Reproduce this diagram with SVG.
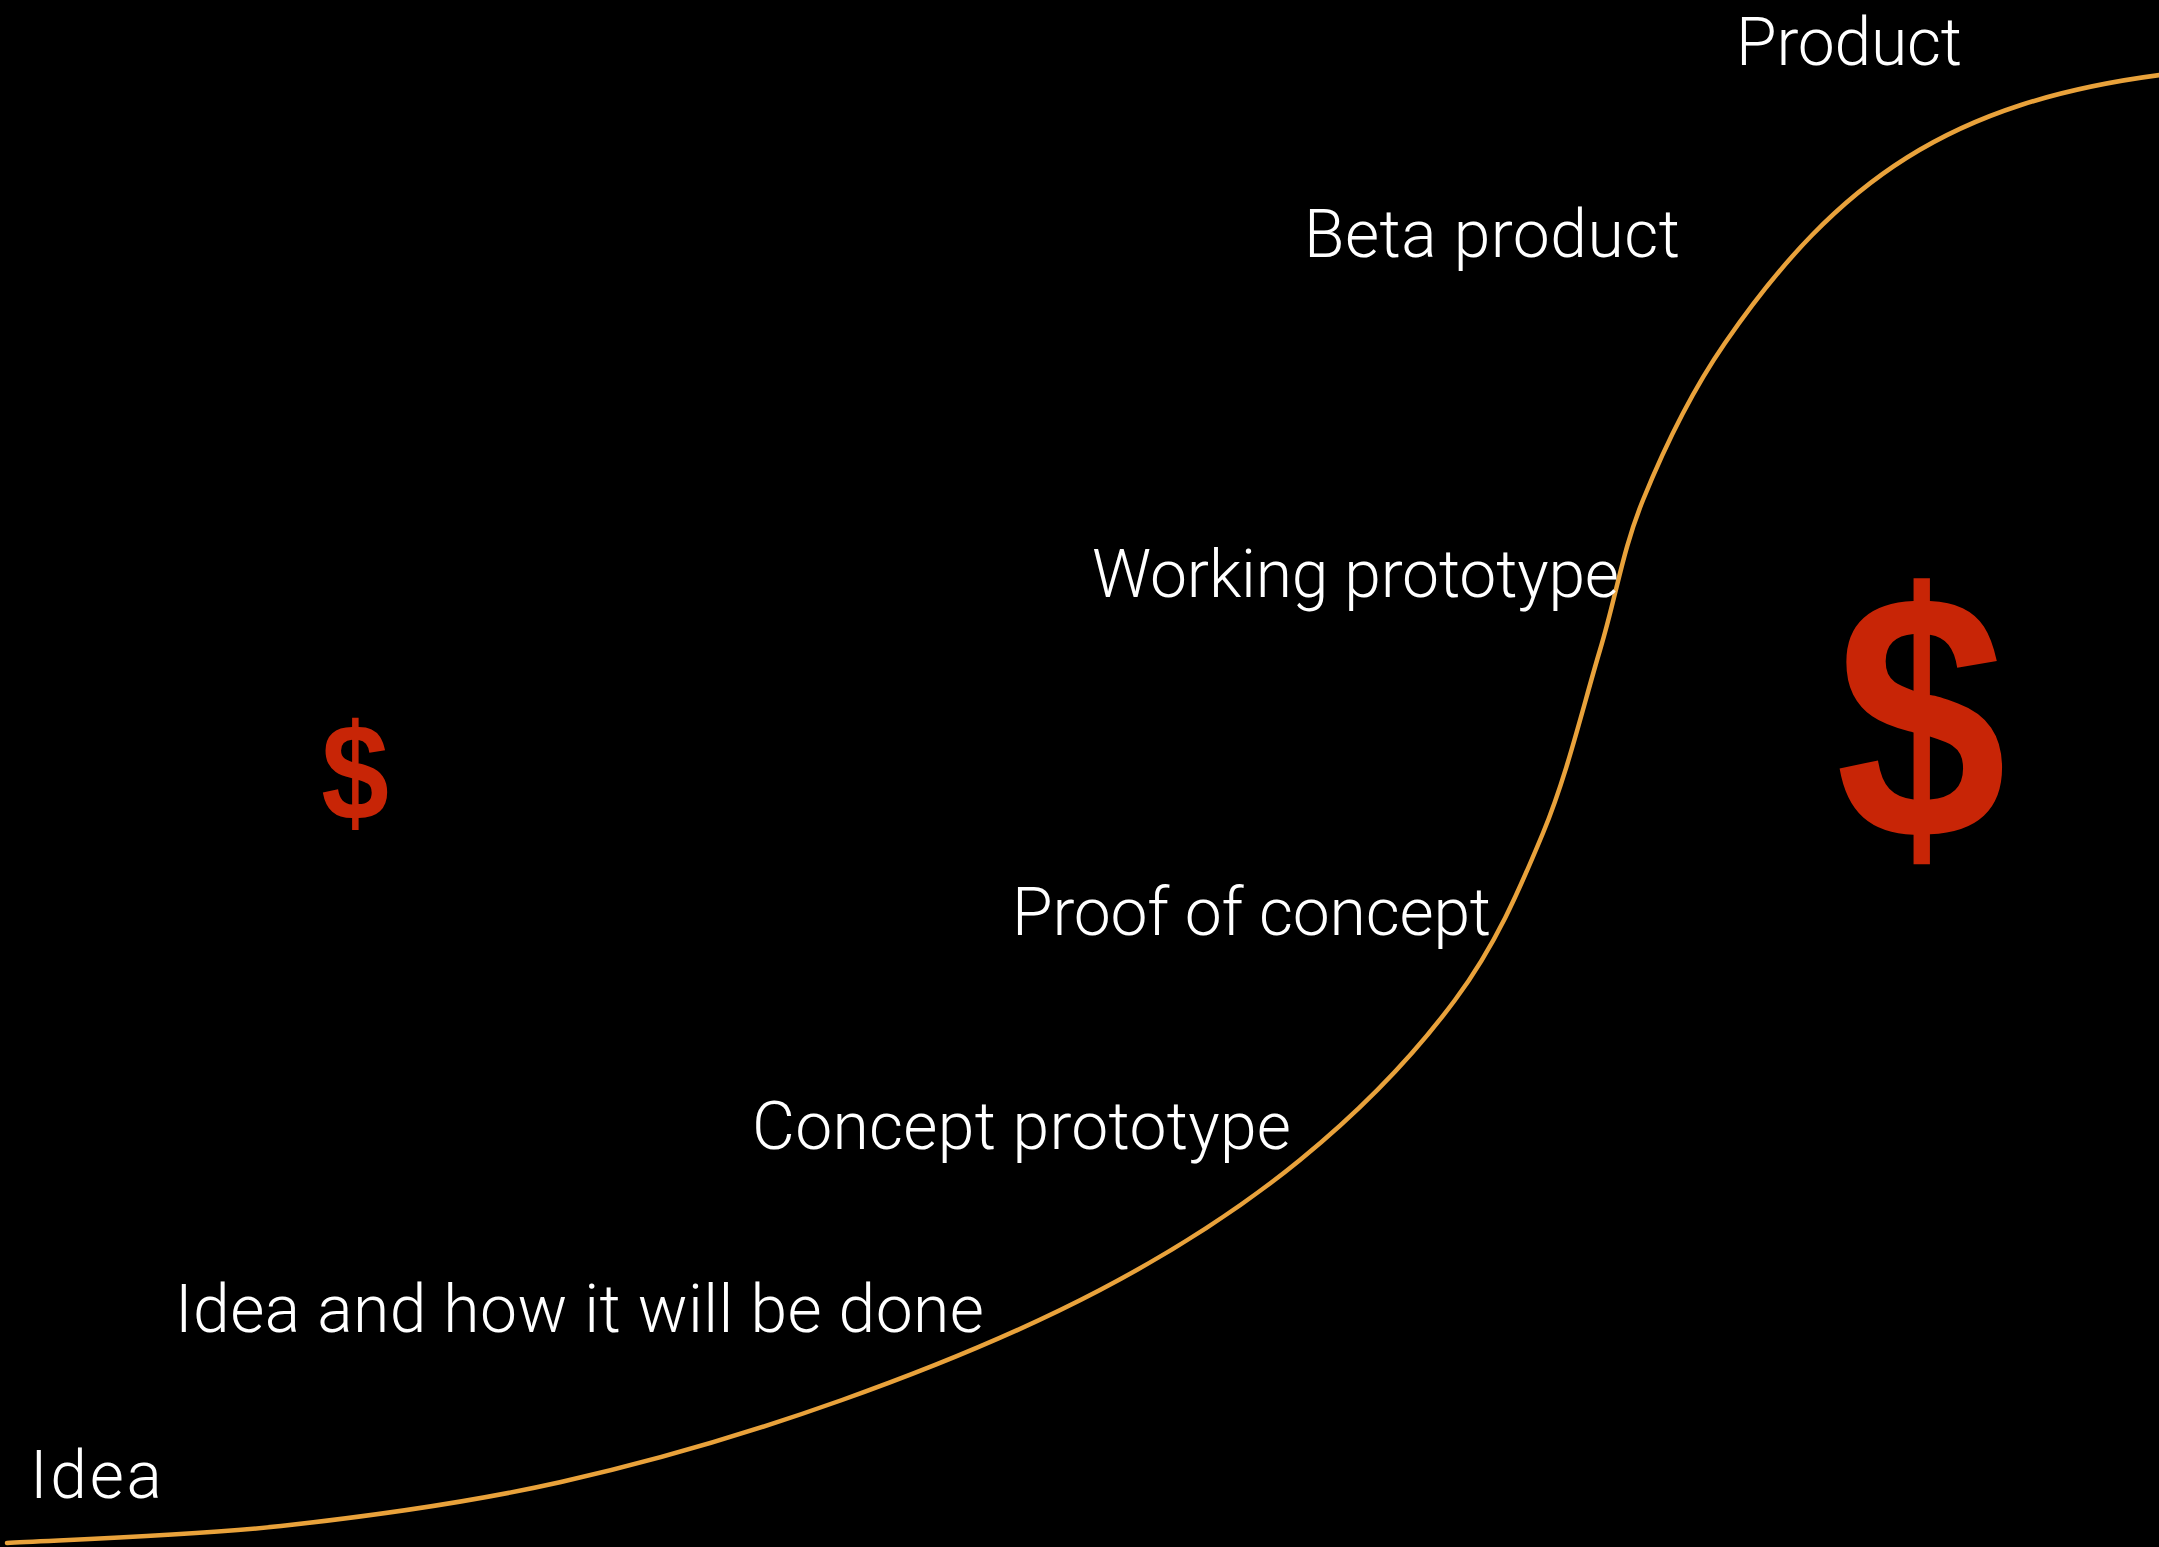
<svg xmlns="http://www.w3.org/2000/svg" width="2159" height="1547" viewBox="0 0 2159 1547">
  <style>
    .lbl { font-family: Roboto, "Liberation Sans", "DejaVu Sans", sans-serif; font-weight: 300; font-size: 66px; fill: #ffffff; }
    .usd { font-family: "Liberation Sans", Arial, sans-serif; font-weight: bold; fill: #c82506; text-anchor: middle; }
    .curve { fill: none; stroke: #e9a23b; stroke-width: 4.5; stroke-linecap: round; }
  </style>
  <rect x="0" y="0" width="2159" height="1547" fill="#000000"/>
  <g id="connectors">
    <path class="curve" d="M7,1543 C52.7,1540.2 188.7,1536.2 281,1526 C373.3,1515.8 467.5,1503 561,1482 C654.5,1461 752.2,1432 842,1400 C931.8,1368 1023.7,1330 1100,1290 C1176.3,1250 1240.8,1208.3 1300,1160 C1359.2,1111.7 1414.5,1054.5 1455,1000 C1495.5,945.5 1518.8,891.3 1543,833 C1567.2,774.7 1583.3,705.5 1600,650 C1616.7,594.5 1622.2,551.2 1643,500 C1663.8,448.8 1690.5,393 1725,343 C1838.6,178.4 1951.9,102.3 2160,75"/>
  </g>
  <g id="idea"><text class="lbl" x="30" y="1498" textLength="132">Idea</text></g>
  <g id="idea-how"><text class="lbl" x="175" y="1332" textLength="809">Idea and how it will be done</text></g>
  <g id="concept-prototype"><text class="lbl" x="752" y="1149" textLength="539">Concept prototype</text></g>
  <g id="proof-of-concept"><text class="lbl" x="1012" y="935" textLength="479">Proof of concept</text></g>
  <g id="working-prototype"><text class="lbl" x="1092" y="597" textLength="527">Working prototype</text></g>
  <g id="beta-product"><text class="lbl" x="1304" y="257" textLength="376">Beta product</text></g>
  <g id="product"><text class="lbl" x="1736" y="65" textLength="226">Product</text></g>
  <g id="dollar-small"><text class="usd" x="355" y="817" font-size="128" transform="translate(355,774) scale(0.95,1.075) translate(-355,-774)">$</text></g>
  <g id="dollar-large"><text class="usd" x="1921" y="828" font-size="320" transform="translate(1921,720) scale(0.96,1.095) translate(-1921,-720)">$</text></g>
</svg>
